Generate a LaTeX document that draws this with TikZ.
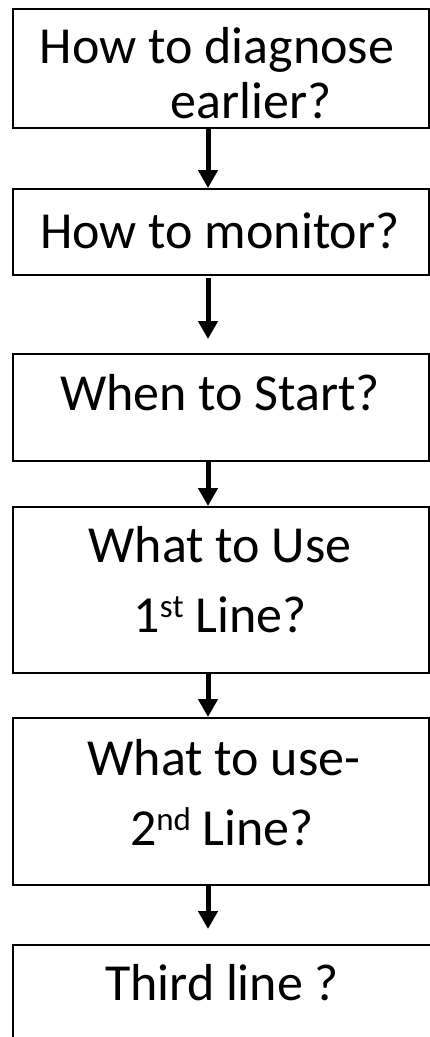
\documentclass[tikz,border=0pt]{standalone}
\usepackage{fontspec}
\setmainfont{Carlito}
\usetikzlibrary{arrows.meta}
\begin{document}
\begin{tikzpicture}[x=1pt,y=-1pt,
  qbox/.style={draw=black,line width=1.6pt,rectangle,anchor=north west,inner sep=0pt},
  qtext/.style={anchor=base,inner sep=0pt,font=\fontsize{52}{60}\selectfont},
  flow/.style={line width=5pt,-{Triangle[width=19pt,length=18pt]}}]
\useasboundingbox (0,0) rectangle (430,1037);
\begin{scope}
\clip (0,0) rectangle (430,1037);
\node[qbox,minimum width=416pt,minimum height=119pt] (b1) at (12,8) {};
\node[qbox,minimum width=416pt,minimum height=86pt] (b2) at (12,188) {};
\node[qbox,minimum width=416pt,minimum height=107pt] (b3) at (12,353) {};
\node[qbox,minimum width=416pt,minimum height=166pt] (b4) at (12,506) {};
\node[qbox,minimum width=416pt,minimum height=167pt] (b5) at (12,717) {};
\node[qbox,minimum width=440pt,minimum height=120pt] (b6) at (12,944) {};
\end{scope}
\node[qtext] (t1a) at (217,63) {How to diagnose};
\node[qtext] (t1b) at (251,118) {earlier?};
\node[qtext] (t2) at (220,248) {How to monitor?};
\node[qtext] (t3) at (220,410) {When to Start?};
\node[qtext] (t4a) at (220,562) {What to Use};
\node[qtext] (t4b) at (220,632) {1\raisebox{15pt}{\fontsize{33}{33}\selectfont st} Line?};
\node[qtext] (t5a) at (224,775) {What to use-};
\node[qtext] (t5b) at (222,845) {2\raisebox{15pt}{\fontsize{33}{33}\selectfont nd} Line?};
\node[qtext] (t6) at (222,1000) {Third line ?};
\coordinate (ax) at (208,0);
\coordinate (s2) at (208,278);
\coordinate (e2) at (208,339);
\coordinate (e5) at (208,929);
\draw[flow] (b1.south -| ax) -- (b2.north -| ax);
\draw[flow] (s2) -- (e2);
\draw[flow] (b3.south -| ax) -- (b4.north -| ax);
\draw[flow] (b4.south -| ax) -- (b5.north -| ax);
\draw[flow] (b5.south -| ax) -- (e5);
\end{tikzpicture}
\end{document}
